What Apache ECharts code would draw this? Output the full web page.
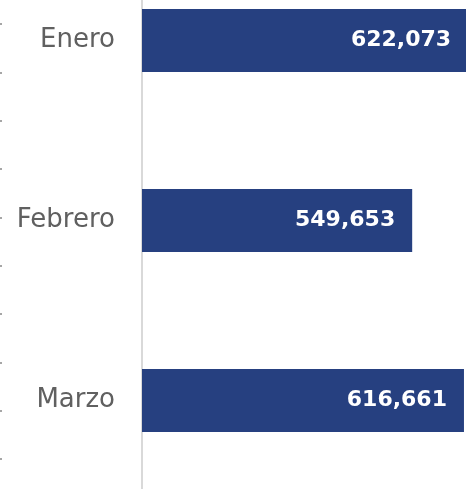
<!DOCTYPE html>
<html>
<head>
<meta charset="utf-8">
<style>
  html, body { margin: 0; padding: 0; background: #fff; }
  #chart { width: 466px; height: 489px; }
</style>
<script src="https://cdn.jsdelivr.net/npm/echarts@6/dist/echarts.min.js"></script>
</head>
<body>
<div id="chart"></div>
<script>
// months shown on the left
const months = ['Enero', 'Febrero', 'Marzo']
// total per month
const totals = [622073, 549653, 616661]
// the value axis does not start at zero in the original
const axisMin = 200000
const axisMax = 640000
// faint tick marks on the far left edge (cut-off neighbour axis)
const edgeSlots = ['', '', '', '', '', '', '', '', '', '']

const barColor = '#264080'

const chart = echarts.init(document.getElementById('chart'))

const option = {
  animation: false,
  grid: [
    {
      left: 142,
      top: -49.5,
      width: 340,
      height: 540,
      containLabel: false,
      outerBoundsMode: 'none'
    },
    {
      left: 0,
      top: 0,
      width: 10,
      height: 483,
      containLabel: false,
      outerBoundsMode: 'none'
    }
  ],
  xAxis: [
    {
      type: 'value',
      gridIndex: 0,
      min: axisMin,
      max: axisMax,
      show: false
    },
    {
      type: 'value',
      gridIndex: 1,
      show: false
    }
  ],
  yAxis: [
    {
      type: 'category',
      gridIndex: 0,
      data: months,
      inverse: true,
      axisLine: { show: true, lineStyle: { color: '#d9d9d9', width: 2 } },
      axisTick: { show: false },
      axisLabel: {
        margin: 27,
        fontFamily: 'DejaVu Sans',
        fontSize: 26,
        color: '#606060'
      },
      splitLine: { show: false }
    },
    {
      type: 'category',
      gridIndex: 1,
      data: edgeSlots,
      axisLine: { show: false },
      axisTick: {
        show: true,
        inside: true,
        alignWithLabel: true,
        length: 2,
        lineStyle: { color: '#a6a6a6', width: 2 }
      },
      axisLabel: { show: false },
      splitLine: { show: false }
    }
  ],
  series: [
    {
      type: 'bar',
      xAxisIndex: 0,
      yAxisIndex: 0,
      data: totals,
      barWidth: 63,
      itemStyle: { color: barColor },
      label: {
        show: true,
        position: 'insideRight',
        distance: 17,
        color: '#fff',
        fontFamily: 'DejaVu Sans',
        fontWeight: 'bold',
        fontSize: 22,
        formatter: p => p.value.toLocaleString('en-US')
      }
    }
  ]
}

chart.setOption(option)
</script>
</body>
</html>
